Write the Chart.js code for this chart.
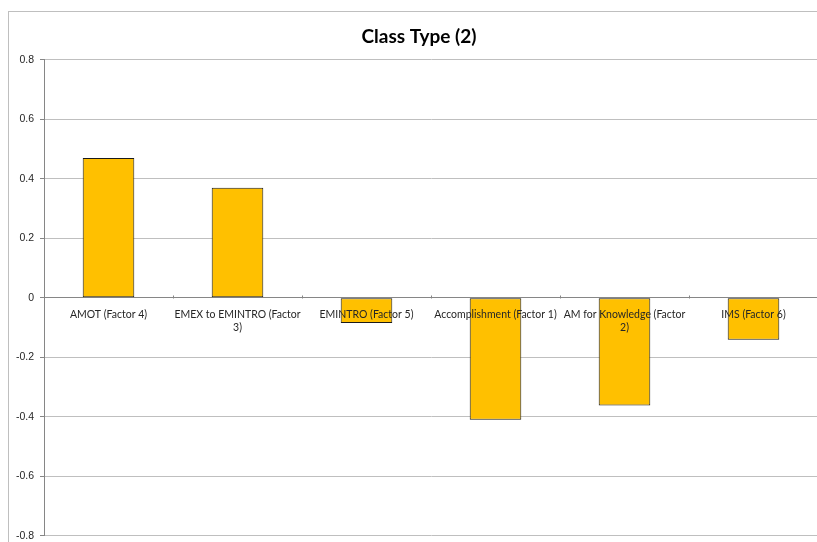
<!DOCTYPE html>
<html>
<head>
<meta charset="utf-8">
<script src="https://cdn.jsdelivr.net/npm/chart.js@4/dist/chart.umd.min.js"></script>
<style>
    html, body { margin: 0; padding: 0; background: #fff; overflow: hidden; }
    #frame { position: absolute; left: 8px; top: 11px; width: 900px; height: 600px; border: 1px solid #bfbfbf; }
    #wrap { position: absolute; left: 0; top: 0; width: 838px; height: 548px; }
</style>
</head>
<body>
<div id="frame"></div>
<div id="wrap"><canvas id="classTypeChart"></canvas></div>
<script>
(function () {
    'use strict';

    const categories = [
        "AMOT (Factor 4)",
        ["EMEX to EMINTRO (Factor", "3)"],
        "EMINTRO (Factor 5)",
        "Accomplishment (Factor 1)",
        ["AM for Knowledge (Factor", "2)"],
        "IMS (Factor 6)"
    ];
    const values = [0.47, 0.37, -0.085, -0.41, -0.362, -0.141];
    const yTicks = [-0.8, -0.6, -0.4, -0.2, 0, 0.2, 0.4, 0.6, 0.8];

    // small upward tick marks on the category axis, like Excel draws them
    const categoryTicks = {
        id: "categoryTicks",
        afterDraw(chart) {
            const x = chart.scales.x, y = chart.scales.y;
            const ctx = chart.ctx;
            const y0 = Math.round(y.getPixelForValue(0)) + 0.5;
            const step = (x.right - x.left) / categories.length;
            ctx.save();
            ctx.strokeStyle = "#868686";
            ctx.lineWidth = 1;
            ctx.beginPath();
            for (let i = 0; i <= categories.length; i++) {
                const px = Math.round(x.left + i * step) + 0.5;
                ctx.moveTo(px, y0);
                ctx.lineTo(px, y0 - 3);
            }
            ctx.stroke();
            ctx.restore();
        }
    };

    const ctx = document.getElementById("classTypeChart");
    new Chart(ctx, {
        type: "bar",
        data: {
            labels: categories,
            datasets: [{
                label: "Class Type (2)",
                data: values,
                backgroundColor: "#FFC000",
                borderColor: "#1a1a1a",
                borderWidth: 1,
                borderSkipped: false,
                barPercentage: 0.4,
                categoryPercentage: 1
            }]
        },
        options: {
            responsive: true,
            maintainAspectRatio: false,
            animation: false,
            layout: { padding: { left: 0, right: 0, top: 0, bottom: 1 } },
            plugins: {
                legend: { display: false },
                tooltip: { enabled: false },
                title: {
                    display: true,
                    text: "Class Type (2)",
                    color: "#000",
                    font: { family: "Lato", size: 19, weight: "bold" },
                    padding: { top: 25, bottom: 12 }
                }
            },
            scales: {
                x: {
                    position: { y: 0 },
                    grid: { display: false },
                    border: { display: true, color: "#868686", width: 1 },
                    ticks: {
                        z: 1,
                        color: "#262626",
                        font: { family: "Lato", size: 10.5 },
                        maxRotation: 0,
                        autoSkip: false,
                        padding: 3
                    }
                },
                y: {
                    min: -0.8,
                    max: 0.8,
                    afterFit(scale) { scale.width = 44; },
                    afterBuildTicks(scale) {
                        scale.ticks = yTicks.map(v => ({ value: v }));
                    },
                    grid: {
                        color: ctx => (ctx.tick && ctx.tick.value === 0 ? "#868686" : "#bfbfbf"),
                        tickColor: "#868686",
                        tickLength: 4,
                        lineWidth: 1
                    },
                    border: { color: "#868686" },
                    ticks: {
                        color: "#262626",
                        font: { family: "Liberation Sans", size: 10.5 },
                        padding: 6,
                        callback: v => (v === 0 ? "0" : v.toFixed(1))
                    }
                },
                // empty right-hand strip so the plot ends where the picture is cut
                spacer: {
                    type: "linear",
                    position: "right",
                    grid: { display: false },
                    border: { display: false },
                    ticks: { display: false },
                    afterFit(scale) { scale.width = 20; }
                }
            }
        },
        plugins: [categoryTicks]
    });
})();
</script>
</body>
</html>
